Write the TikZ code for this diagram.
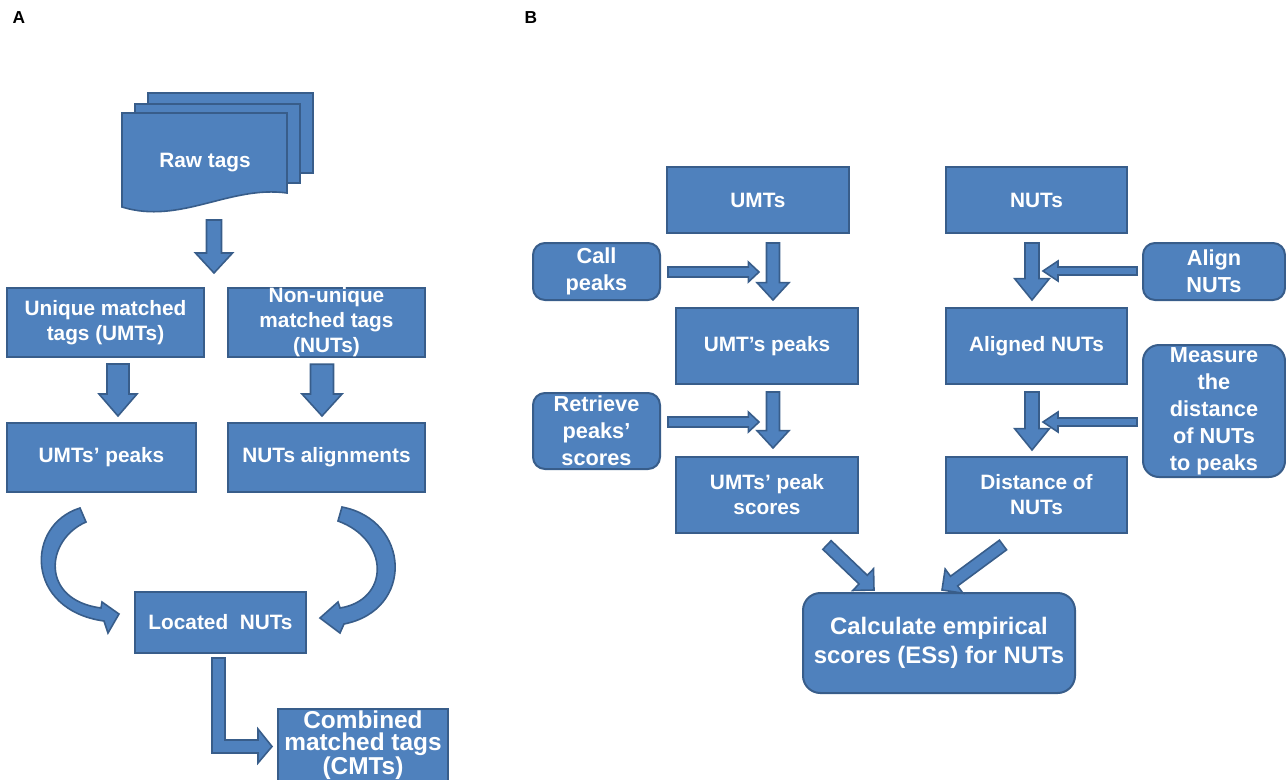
\documentclass[tikz,border=0pt]{standalone}
\usepackage{fontspec}
\setmainfont{Liberation Sans}
\usetikzlibrary{calc}
\definecolor{boxfill}{HTML}{4F81BD}
\definecolor{boxline}{HTML}{385D8A}
\tikzset{
  base/.style={draw=boxline, fill=boxfill, line width=1.5pt, text=white, align=center, inner sep=0pt,
    font=\bfseries\fontsize{15.6}{18.75}\selectfont},
  sqbox/.style={base},
  rbox/.style={base, rounded corners=9pt, font=\bfseries\fontsize{16.3}{20.25}\selectfont},
  shapefill/.style={draw=boxline, fill=boxfill, line width=1.2pt, line join=miter},
  lbl/.style={text=white, align=center, inner sep=0pt, font=\bfseries\fontsize{15.6}{18.75}\selectfont},
  panel/.style={inner sep=0pt, font=\bfseries\fontsize{13}{15}\selectfont},
}
\newcommand{\blockarrow}[5]{%
  \coordinate (ba-h) at ($(#2)!#5!(#1)$);
  \path[shapefill] ($(#1)!#3!90:(#2)$) -- ($(ba-h)!#3!90:(#2)$) -- ($(ba-h)!#4!90:(#2)$) -- (#2)
    -- ($(ba-h)!#4!-90:(#2)$) -- ($(ba-h)!#3!-90:(#2)$) -- ($(#1)!#3!-90:(#2)$) -- cycle;
}
\begin{document}
\begin{tikzpicture}[x=0.75pt,y=-0.75pt]
\useasboundingbox (0,0) rectangle (1286,779);
\clip (0,0) rectangle (1286,779);

% panel labels
\node[panel] (pA) at (19,18) {A};
\node[panel] (pB) at (531,18) {B};

% ---------------- Panel A ----------------
% raw tags (multi-document)
\path[shapefill] (148,93) rectangle (313,173);
\path[shapefill] (135,104) rectangle (300,183);
\path[shapefill] (122,113) -- (287,113) -- (287,193) .. controls (230,185) and (180,225) .. (122,207) -- cycle;
\node[lbl] (raw) at (205,163) {Raw tags};

\node[sqbox, minimum width=147.75pt, minimum height=51.75pt] (uniq) at (105.5,322.5) {Unique matched\\tags (UMTs)};
\node[sqbox, minimum width=147.75pt, minimum height=51.75pt] (nonu) at (326.5,322.5) {Non-unique\\matched tags\\(NUTs)};
\node[sqbox, minimum width=141.75pt, minimum height=51.75pt] (umtp) at (101.5,457.5) {UMTs’ peaks};
\node[sqbox, minimum width=147.75pt, minimum height=51.75pt] (nuta) at (326.5,457.5) {NUTs alignments};
\node[sqbox, minimum width=128.25pt, minimum height=45.75pt] (loc) at (220.5,622.5) {Located\ \ NUTs};
\node[sqbox, minimum width=127.5pt, minimum height=55pt, font=\bfseries\fontsize{18.3}{16.5}\selectfont] (cmt) at (363,745.5) {Combined\\matched tags\\(CMTs)};

% straight block arrows
\coordinate (r0) at (214,220); \coordinate (r1) at (214,273);
\blockarrow{r0}{r1}{5.6pt}{13.9pt}{15pt}
\coordinate (u0) at ($(uniq.south)+(12.5,6)$); \coordinate (u1) at ($(umtp.north)+(16.5,-6)$);
\blockarrow{u0}{u1}{8.25pt}{14.25pt}{16.5pt}
\coordinate (n0) at ($(nonu.south)+(-4.5,6)$); \coordinate (n1) at ($(nuta.north)+(-4.5,-6)$);
\blockarrow{n0}{n1}{8.6pt}{15pt}{16.5pt}

% curved arrows into Located NUTs
\path[shapefill] (86,522) .. controls (45,540) and (40,600) .. (101,608) -- (102,602) -- (119,614)
  -- (108,633) -- (104,621) .. controls (25,610) and (25,525) .. (80,508) -- cycle;
\path[shapefill] (338,521) .. controls (390,540) and (390,600) .. (340,608) -- (338,602) -- (320,618)
  -- (340,633) -- (344,624) .. controls (415,610) and (410,520) .. (342,507) -- cycle;

% bent arrow to CMTs
\path[shapefill] (212,658) -- (225,658) -- (225,740) -- (258,740) -- (258,729) -- (272,746.5)
  -- (258,763) -- (258,753) -- (212,753) -- cycle;

% ---------------- Panel B ----------------
\node[sqbox, minimum width=136.5pt, minimum height=49.5pt] (umts) at (758,200) {UMTs};
\node[sqbox, minimum width=135.75pt, minimum height=49.5pt] (nuts) at (1036.5,200) {NUTs};
\node[rbox, minimum width=95.25pt, minimum height=42.75pt] (callp) at (596.5,271.5) {Call\\peaks};
\node[sqbox, minimum width=136.5pt, minimum height=57pt] (umtpk) at (767,346) {UMT’s peaks};
\node[sqbox, minimum width=135.75pt, minimum height=57pt] (alnu) at (1036.5,346) {Aligned NUTs};
\node[rbox, minimum width=95.25pt, minimum height=57pt] (retr) at (596.5,431) {Retrieve\\peaks’\\scores};
\node[sqbox, minimum width=136.5pt, minimum height=57pt] (umtps) at (767,495) {UMTs’ peak\\scores};
\node[sqbox, minimum width=135.75pt, minimum height=57pt] (dist) at (1036.5,495) {Distance of\\NUTs};
\node[rbox, minimum width=106.5pt, minimum height=42.75pt] (align) at (1214,271.5) {Align\\NUTs};
\node[rbox, minimum width=106.5pt, minimum height=99pt, rounded corners=12pt] (meas) at (1214,411) {Measure\\the\\distance\\of NUTs\\to peaks};
\node[rbox, minimum width=204pt, minimum height=75pt, rounded corners=13pt, font=\bfseries\fontsize{17.9}{21.75}\selectfont] (calc) at (939,643) {Calculate empirical\\scores (ESs) for NUTs};

% left column arrows
\coordinate (a0) at (773,243); \coordinate (a1) at (773,300);
\blockarrow{a0}{a1}{4.9pt}{12pt}{13pt}
\coordinate (c0) at (668,272); \coordinate (c1) at (759,272);
\blockarrow{c0}{c1}{3.75pt}{7.5pt}{8pt}
\coordinate (b0) at (773,392); \coordinate (b1) at (773,448);
\blockarrow{b0}{b1}{4.9pt}{12pt}{13pt}
\coordinate (d0) at (668,422); \coordinate (d1) at (759,422);
\blockarrow{d0}{d1}{3.75pt}{7.5pt}{8pt}

% right column arrows
\coordinate (e0) at (1032,243); \coordinate (e1) at (1032,300);
\blockarrow{e0}{e1}{5.25pt}{13pt}{16pt}
\coordinate (f0) at (1137,271); \coordinate (f1) at (1043,271);
\blockarrow{f0}{f1}{3pt}{7.5pt}{11.25pt}
\coordinate (g0) at (1032,392); \coordinate (g1) at (1032,450);
\blockarrow{g0}{g1}{5.25pt}{13pt}{16pt}
\coordinate (h0) at (1137,422); \coordinate (h1) at (1043,422);
\blockarrow{h0}{h1}{3pt}{7.5pt}{11.25pt}

% diagonal arrows into calc
\coordinate (k0) at (827,545); \coordinate (k1) at (874,590);
\blockarrow{k0}{k1}{4.5pt}{11.25pt}{11.25pt}
\coordinate (m0) at (1003,545); \coordinate (m1) at (942,590);
\blockarrow{m0}{m1}{4.5pt}{11.25pt}{11.25pt}
\end{tikzpicture}
\end{document}
